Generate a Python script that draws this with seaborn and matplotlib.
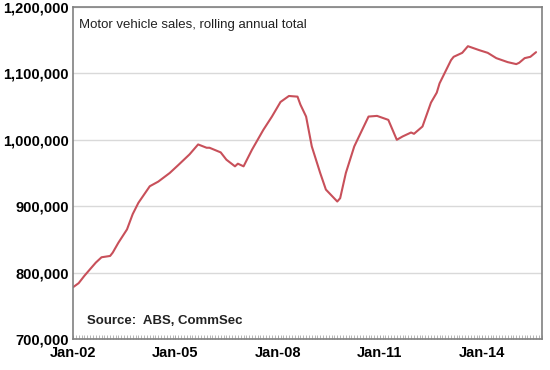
import pandas as pd
import numpy as np
import matplotlib
matplotlib.use("Agg")
import matplotlib.pyplot as plt
import matplotlib.dates as mdates
from matplotlib.ticker import FuncFormatter, FixedLocator
import seaborn as sns

# readings (month, rolling annual total)
months = ["2002-01", "2002-03", "2002-05", "2002-07", "2002-09", "2002-11",
          "2003-02", "2003-03", "2003-05", "2003-08", "2003-10", "2003-12",
          "2004-04", "2004-07", "2004-11", "2005-02", "2005-06", "2005-09",
          "2005-12", "2006-01", "2006-05", "2006-07", "2006-10", "2006-11",
          "2007-01", "2007-04", "2007-08", "2007-11", "2008-02", "2008-05",
          "2008-08", "2008-09", "2008-11", "2009-01", "2009-04", "2009-06",
          "2009-10", "2009-11", "2010-01", "2010-04", "2010-06", "2010-09",
          "2010-12", "2011-04", "2011-07", "2011-09", "2011-12", "2012-01",
          "2012-04", "2012-07", "2012-09", "2012-10", "2013-02", "2013-03",
          "2013-06", "2013-08", "2013-12", "2014-03", "2014-06", "2014-10",
          "2015-01", "2015-02", "2015-04", "2015-06", "2015-08"]
sales = [778000, 784000, 795000, 805000, 815000, 823000,
         825000, 830000, 845000, 865000, 888000, 905000,
         930000, 937000, 950000, 962000, 978000, 993000,
         988000, 988000, 981000, 970000, 960000, 964000,
         960000, 985000, 1015000, 1035000, 1057000, 1066000,
         1065000, 1053000, 1035000, 990000, 950000, 925000,
         907000, 912000, 950000, 990000, 1008000, 1035000,
         1036000, 1030000, 1000000, 1005000, 1011000, 1009000,
         1020000, 1056000, 1071000, 1085000, 1120000, 1125000,
         1131000, 1141000, 1135000, 1131000, 1123000, 1117000,
         1114000, 1116000, 1123000, 1125000, 1132000]

tick_labels = ["Jan-02", "Jan-05", "Jan-08", "Jan-11", "Jan-14"]
y_ticks = [700000, 800000, 900000, 1000000, 1100000, 1200000]

df = pd.DataFrame({"date": pd.to_datetime(months), "sales": sales})

sns.set_style("white")
plt.rcParams['font.family'] = ['Liberation Sans', 'DejaVu Sans']

fig = plt.figure(figsize=(5.5, 3.7), dpi=100)
ax = fig.add_axes([0.133, 0.084, 0.852, 0.897])

sns.lineplot(data=df, x="date", y="sales", ax=ax, color="#C8505A", linewidth=1.5)

ax.set_ylim(700000, 1200000)
ax.set_xlim(pd.Timestamp("2002-01-01"), pd.Timestamp("2015-10-01"))

ax.yaxis.set_major_locator(FixedLocator(y_ticks))
ax.yaxis.set_major_formatter(FuncFormatter(lambda v, p: "{:,.0f}".format(v)))
tick_dates = [pd.Timestamp("20" + t[-2:] + "-01-01") for t in tick_labels]
ax.set_xticks(tick_dates)
ax.set_xticklabels(tick_labels)
ax.xaxis.set_minor_locator(mdates.MonthLocator())

for lab in ax.get_xticklabels() + ax.get_yticklabels():
    lab.set_fontweight("bold")
    lab.set_fontsize(10.5)
    lab.set_color("black")

ax.tick_params(axis="x", which="both", bottom=True)
ax.tick_params(axis="x", which="major", length=3, direction="in", color="#999999", width=0.6, pad=5)
ax.tick_params(axis="x", which="minor", length=3, direction="in", color="#aaaaaa", width=0.6)
ax.tick_params(axis="y", length=0, pad=3)

ax.set_xlabel("")
ax.set_ylabel("")
ax.grid(axis="y", color="#d9d9d9", linewidth=1)
ax.set_axisbelow(True)
for s in ax.spines.values():
    s.set_color("#808080")
    s.set_linewidth(1.2)

ax.text(0.012, 0.965, "Motor vehicle sales, rolling annual total", transform=ax.transAxes,
        fontsize=9.5, va="top", ha="left", color="#222222")
ax.text(0.03, 0.035, "Source:  ABS, CommSec", transform=ax.transAxes,
        fontsize=9.5, fontweight="bold", va="bottom", ha="left", color="#222222")

fig.savefig("out.png", dpi=100)
